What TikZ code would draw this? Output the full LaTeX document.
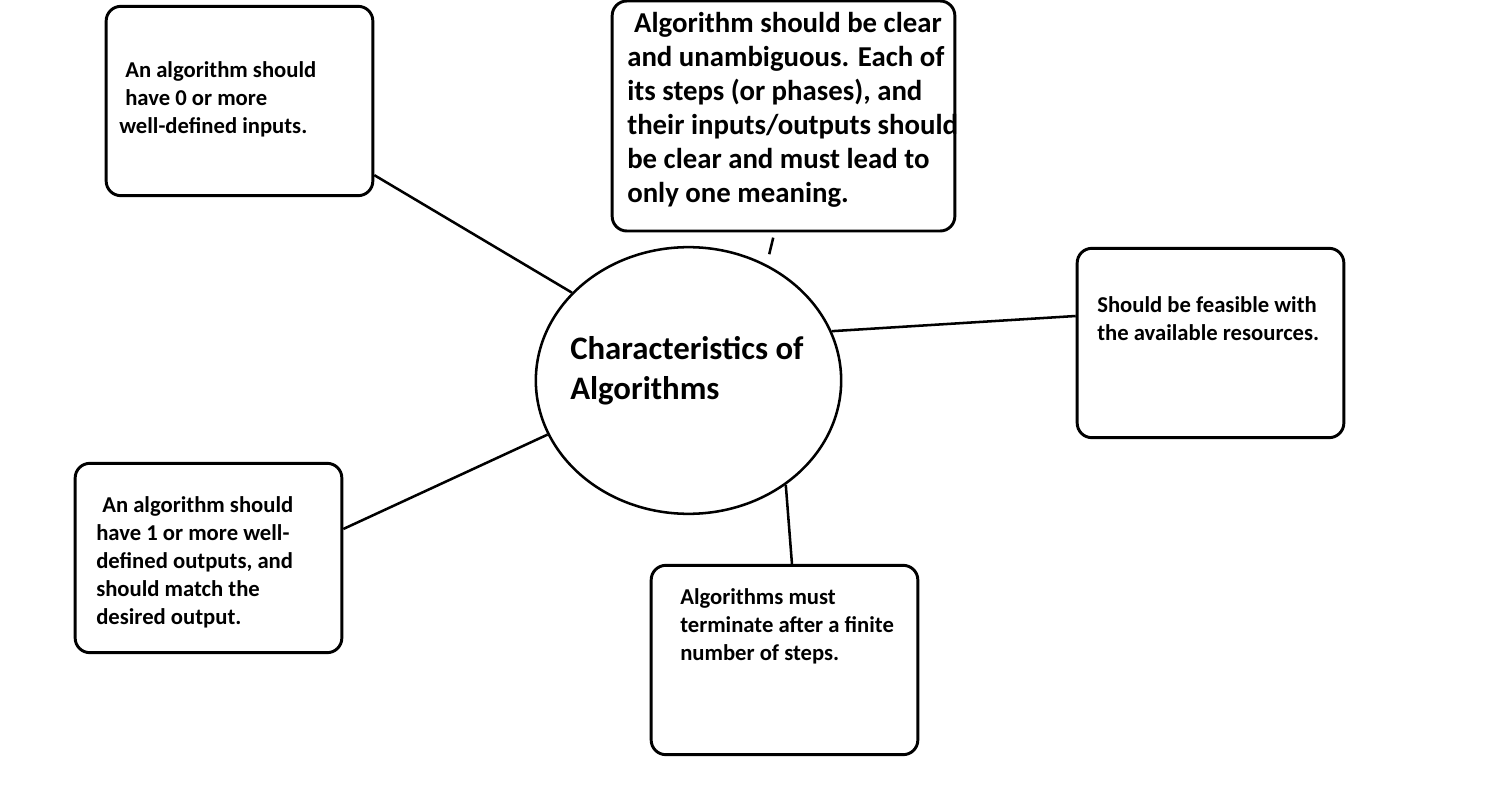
\documentclass[tikz,border=0pt]{standalone}
\usepackage{fontspec}
\setmainfont{Carlito}
\usepackage{tikz}
\usetikzlibrary{shapes.geometric}

\tikzset{
  card/.style={draw, line width=2.2pt, rounded corners=11pt, minimum width=200pt, minimum height=142pt, inner sep=0pt},
  txt/.style={anchor=base west, align=left, inner sep=0pt, font=\bfseries\fontsize{17}{21}\selectfont},
  link/.style={line width=1.9pt},
}

\begin{document}
\begin{tikzpicture}[x=0.75pt, y=-0.75pt]
            \useasboundingbox (0,0) rectangle (1495,809);

            % Define centre
            \node[ellipse, draw, line width=1.9pt, minimum width=229pt, minimum height=200pt, inner sep=0pt] (char) at (688.5,380.5) {};
            \node[txt, font=\bfseries\fontsize{24.6}{30}\selectfont] (title) at (570,399) {Characteristics of\\Algorithms};

            % Define boxes
            \node[card] (inputs) at (239.5,101) {};
            \node[card, minimum width=257pt, minimum height=172.5pt] (clear) at (783.5,116) {};
            \node[card] (feasible) at (1210.5,343) {};
            \node[card] (outputs) at (208.5,558) {};
            \node[card] (finite) at (784.5,660) {};

            % Define texts (anchored at the last line)
            \node[txt] (inputstext) at (119,134) {\hspace*{4.5pt}An algorithm should\\\hspace*{4.5pt}have 0 or more\\well-defined inputs.};
            \node[txt, font=\bfseries\fontsize{21.6}{25.5}\selectfont] (cleartext) at (627,203) {\hspace*{5.2pt}Algorithm should be clear\\and unambiguous. Each of\\its steps (or phases), and\\their inputs/outputs should\\be clear and must lead to\\only one meaning.};
            \node[txt] (feasibletext) at (1097,340) {Should be feasible with\\the available resources.};
            \node[txt] (outputstext) at (96,624) {\hspace*{4.5pt}An algorithm should\\have 1 or more well-\\defined outputs, and\\should match the\\desired output.};
            \node[txt] (finitetext) at (680,660) {Algorithms must\\terminate after a finite\\number of steps.};

            % Draw edges
            \draw[link] ([yshift=16.5pt]inputs.south east) -- (char.143.7);
            \draw[link, shorten <=4pt, shorten >=8pt] ([xshift=-6.75pt]clear.south) -- (char.56.8);
            \draw[link] ([yshift=20.25pt]feasible.west) -- (char.19.9);
            \draw[link] ([yshift=21.75pt]outputs.east) -- (char.201.2);
            \draw[link] ([xshift=5.6pt]finite.north) -- (char.-47);
\end{tikzpicture}
\end{document}
